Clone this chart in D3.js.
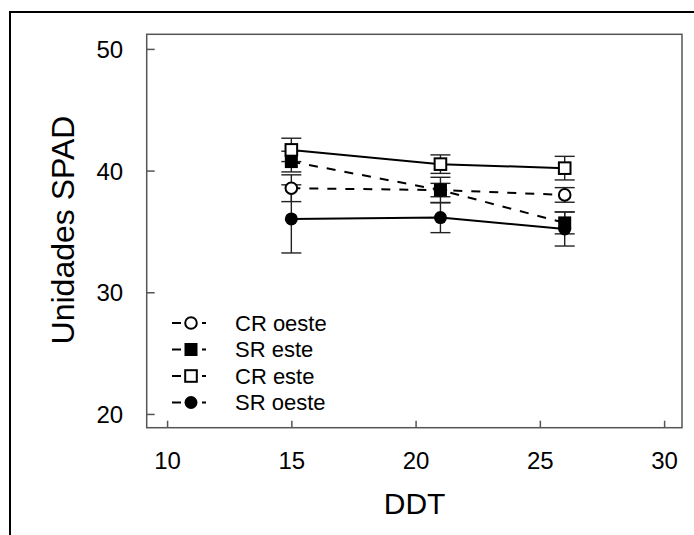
<!DOCTYPE html>
<html>
<head>
<meta charset="utf-8">
<script src="https://cdn.jsdelivr.net/npm/d3@7"></script>
<style>
  html, body { margin: 0; padding: 0; background: #fff; }
  svg { display: block; font-family: "Liberation Sans", Arial, sans-serif; }
</style>
</head>
<body>
<svg id="chart" width="694" height="535"></svg>
<script>
// ---- data ----
const ddt = [15, 21, 26];
const seriesNames = ["CR oeste", "SR este", "CR este", "SR oeste"];
const crOeste = [38.55, 38.4, 38.0];
const crOesteErr = [1.1, 0.55, 0.6];
const srEste = [40.74, 38.4, 35.7];
const srEsteErr = [0.85, 1.05, 0.9];
const crEste = [41.7, 40.53, 40.2];
const crEsteErr = [0.96, 0.76, 0.97];
const srOeste = [36.03, 36.14, 35.2];
const srOesteErr = [2.8, 1.24, 1.4];
const xTicks = [10, 15, 20, 25, 30];
const yTicks = [20, 30, 40, 50];

const series = [
  { name: seriesNames[0], values: crOeste, err: crOesteErr, shape: "circle", filled: false, dashed: true },
  { name: seriesNames[1], values: srEste, err: srEsteErr, shape: "square", filled: true, dashed: true },
  { name: seriesNames[2], values: crEste, err: crEsteErr, shape: "square", filled: false, dashed: false },
  { name: seriesNames[3], values: srOeste, err: srOesteErr, shape: "circle", filled: true, dashed: false }
];

const svg = d3.select("#chart");

// outer border (extends beyond the canvas on right & bottom)
svg.append("rect")
  .attr("x", 10).attr("y", 12)
  .attr("width", 800).attr("height", 700)
  .attr("fill", "none").attr("stroke", "#000").attr("stroke-width", 2);

const pL = 146.7, pR = 682, pT = 34.3, pB = 427.7;
const x = d3.scaleLinear().domain([9.18, 30.72]).range([pL, pR]);
const y = d3.scaleLinear().domain([18.87, 51.2]).range([pB, pT]);

// frame
svg.append("rect")
  .attr("x", pL).attr("y", pT)
  .attr("width", pR - pL).attr("height", pB - pT)
  .attr("fill", "none").attr("stroke", "#555").attr("stroke-width", 1.5);

// axes (ticks inward)
const xAxis = svg.append("g").attr("transform", `translate(0,${pB})`)
  .call(d3.axisBottom(x).tickValues(xTicks).tickSizeInner(-7).tickSizeOuter(0).tickPadding(24));
const yAxis = svg.append("g").attr("transform", `translate(${pL},0)`)
  .call(d3.axisLeft(y).tickValues(yTicks).tickSizeInner(-8).tickSizeOuter(0).tickPadding(24));
[xAxis, yAxis].forEach(a => {
  a.select(".domain").remove();
  a.selectAll(".tick line").attr("stroke", "#555").attr("stroke-width", 1.5);
  a.selectAll(".tick text").attr("fill", "#000").style("font-size", "24px")
    .style("font-family", "'Liberation Sans', Arial, sans-serif");
});
yAxis.selectAll(".tick text").attr("x", -23.5).attr("dy", "0.36em");

// axis titles
svg.append("text")
  .attr("x", x(20) - 1).attr("y", 513.5)
  .attr("text-anchor", "middle")
  .style("font-size", "30px")
  .text("DDT");
svg.append("text")
  .attr("transform", `translate(74,230) rotate(-90)`)
  .attr("text-anchor", "middle")
  .style("font-size", "32px")
  .text("Unidades SPAD");

// lines
const line = d3.line().x((d, i) => x(ddt[i])).y(d => y(d));
series.forEach(s => {
  svg.append("path")
    .attr("d", line(s.values))
    .attr("fill", "none").attr("stroke", "#000").attr("stroke-width", 2)
    .attr("stroke-dasharray", s.dashed ? "9,9" : null);
});

// error bars
const capW = 10;
series.forEach(s => {
  const g = svg.append("g").attr("stroke", "#222").attr("stroke-width", 1.4);
  s.values.forEach((v, i) => {
    const cx = x(ddt[i]);
    const y1 = y(v + s.err[i]), y0 = y(v - s.err[i]);
    g.append("line").attr("x1", cx).attr("x2", cx).attr("y1", y1).attr("y2", y0);
    g.append("line").attr("x1", cx - capW).attr("x2", cx + capW).attr("y1", y1).attr("y2", y1);
    g.append("line").attr("x1", cx - capW).attr("x2", cx + capW).attr("y1", y0).attr("y2", y0);
  });
});

// markers
function drawMarker(g, s, cx, cy) {
  if (s.shape === "circle") {
    g.append("circle").attr("cx", cx).attr("cy", cy).attr("r", s.filled ? 6.5 : 5.8)
      .attr("fill", s.filled ? "#000" : "#fff").attr("stroke", "#000").attr("stroke-width", s.filled ? 0 : 2);
  } else {
    const h = s.filled ? 6.5 : 5.8;
    g.append("rect").attr("x", cx - h).attr("y", cy - h).attr("width", 2 * h).attr("height", 2 * h)
      .attr("fill", s.filled ? "#000" : "#fff").attr("stroke", "#000").attr("stroke-width", s.filled ? 0 : 2);
  }
}
series.forEach(s => {
  const g = svg.append("g");
  s.values.forEach((v, i) => drawMarker(g, s, x(ddt[i]), y(v)));
});

// legend
const legY = [323, 349.5, 376, 402.5];
series.forEach((s, i) => {
  const g = svg.append("g");
  const ly = legY[i];
  g.append("line").attr("x1", 172).attr("x2", 181).attr("y1", ly).attr("y2", ly)
    .attr("stroke", "#000").attr("stroke-width", 2);
  g.append("line").attr("x1", 202).attr("x2", 206).attr("y1", ly).attr("y2", ly)
    .attr("stroke", "#000").attr("stroke-width", 2);
  drawMarker(g, s, 191, ly);
  g.append("text").attr("x", 235).attr("y", ly).attr("dy", "0.36em")
    .style("font-size", "22px").text(s.name);
});
</script>
</body>
</html>
